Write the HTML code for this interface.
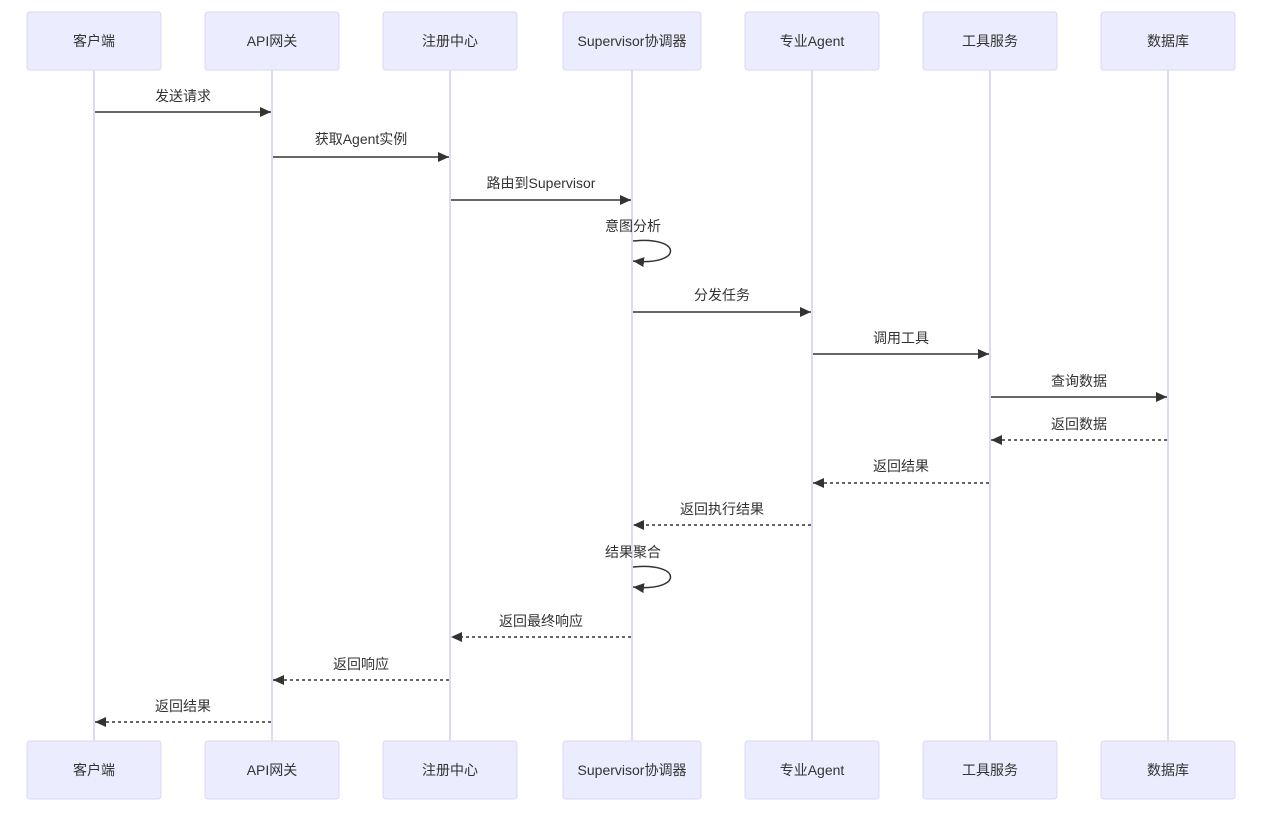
<!DOCTYPE html>
<html><head><meta charset="utf-8"><style>body{margin:0;background:#fff}svg{display:block}text{font-family:"Liberation Sans","Noto Sans CJK SC",sans-serif;fill:#333}</style></head><body>
<svg width="1280" height="815" viewBox="0 0 1280 815" xmlns="http://www.w3.org/2000/svg">
<defs><marker id="a" markerWidth="12" markerHeight="12" refX="11" refY="5" orient="auto" markerUnits="userSpaceOnUse"><path d="M0,0 L11,5 L0,10 z" fill="#333"/></marker></defs>
<g stroke="#d5ccf5" stroke-width="1.5">
<line x1="94" y1="70" x2="94" y2="741"/><line x1="272" y1="70" x2="272" y2="741"/><line x1="450" y1="70" x2="450" y2="741"/><line x1="632" y1="70" x2="632" y2="741"/><line x1="812" y1="70" x2="812" y2="741"/><line x1="990" y1="70" x2="990" y2="741"/><line x1="1168" y1="70" x2="1168" y2="741"/>
</g>
<g fill="#ECECFF" stroke="#dcd6f5" stroke-width="1">
<rect x="27" y="12" width="134" height="58" rx="3"/><rect x="205" y="12" width="134" height="58" rx="3"/><rect x="383" y="12" width="134" height="58" rx="3"/><rect x="563" y="12" width="138" height="58" rx="3"/><rect x="745" y="12" width="134" height="58" rx="3"/><rect x="923" y="12" width="134" height="58" rx="3"/><rect x="1101" y="12" width="134" height="58" rx="3"/>
<rect x="27" y="741" width="134" height="58" rx="3"/><rect x="205" y="741" width="134" height="58" rx="3"/><rect x="383" y="741" width="134" height="58" rx="3"/><rect x="563" y="741" width="138" height="58" rx="3"/><rect x="745" y="741" width="134" height="58" rx="3"/><rect x="923" y="741" width="134" height="58" rx="3"/><rect x="1101" y="741" width="134" height="58" rx="3"/>
</g>
<g font-size="14" text-anchor="middle" dominant-baseline="central">
<text x="94" y="41">客户端</text><text x="272" y="41">API网关</text><text x="450" y="41">注册中心</text><text x="632" y="41">Supervisor协调器</text><text x="812" y="41">专业Agent</text><text x="990" y="41">工具服务</text><text x="1168" y="41">数据库</text>
<text x="94" y="770">客户端</text><text x="272" y="770">API网关</text><text x="450" y="770">注册中心</text><text x="632" y="770">Supervisor协调器</text><text x="812" y="770">专业Agent</text><text x="990" y="770">工具服务</text><text x="1168" y="770">数据库</text>
</g>
<g stroke="#333" stroke-width="1.5" fill="none" marker-end="url(#a)">
<line x1="95" y1="112" x2="271" y2="112"/>
<line x1="273" y1="157" x2="449" y2="157"/>
<line x1="451" y1="200" x2="631" y2="200"/>
<path d="M633,241 C683,236 683,266 633,261"/>
<line x1="633" y1="312" x2="811" y2="312"/>
<line x1="813" y1="354" x2="989" y2="354"/>
<line x1="991" y1="397" x2="1167" y2="397"/>
<g stroke-dasharray="3,3">
<line x1="1167" y1="440" x2="991" y2="440"/>
<line x1="989" y1="483" x2="813" y2="483"/>
<line x1="811" y1="525" x2="633" y2="525"/>
<line x1="631" y1="637" x2="451" y2="637"/>
<line x1="449" y1="680" x2="273" y2="680"/>
<line x1="271" y1="722" x2="95" y2="722"/>
</g>
<path d="M633,567 C683,562 683,592 633,587"/>
</g>
<g font-size="14" text-anchor="middle">
<text x="183" y="101">发送请求</text>
<text x="361" y="144">获取Agent实例</text>
<text x="541" y="188">路由到Supervisor</text>
<text x="633" y="231">意图分析</text>
<text x="722" y="300">分发任务</text>
<text x="901" y="343">调用工具</text>
<text x="1079" y="386">查询数据</text>
<text x="1079" y="429">返回数据</text>
<text x="901" y="471">返回结果</text>
<text x="722" y="514">返回执行结果</text>
<text x="633" y="557">结果聚合</text>
<text x="541" y="626">返回最终响应</text>
<text x="361" y="669">返回响应</text>
<text x="183" y="711">返回结果</text>
</g>
</svg>
</body></html>
